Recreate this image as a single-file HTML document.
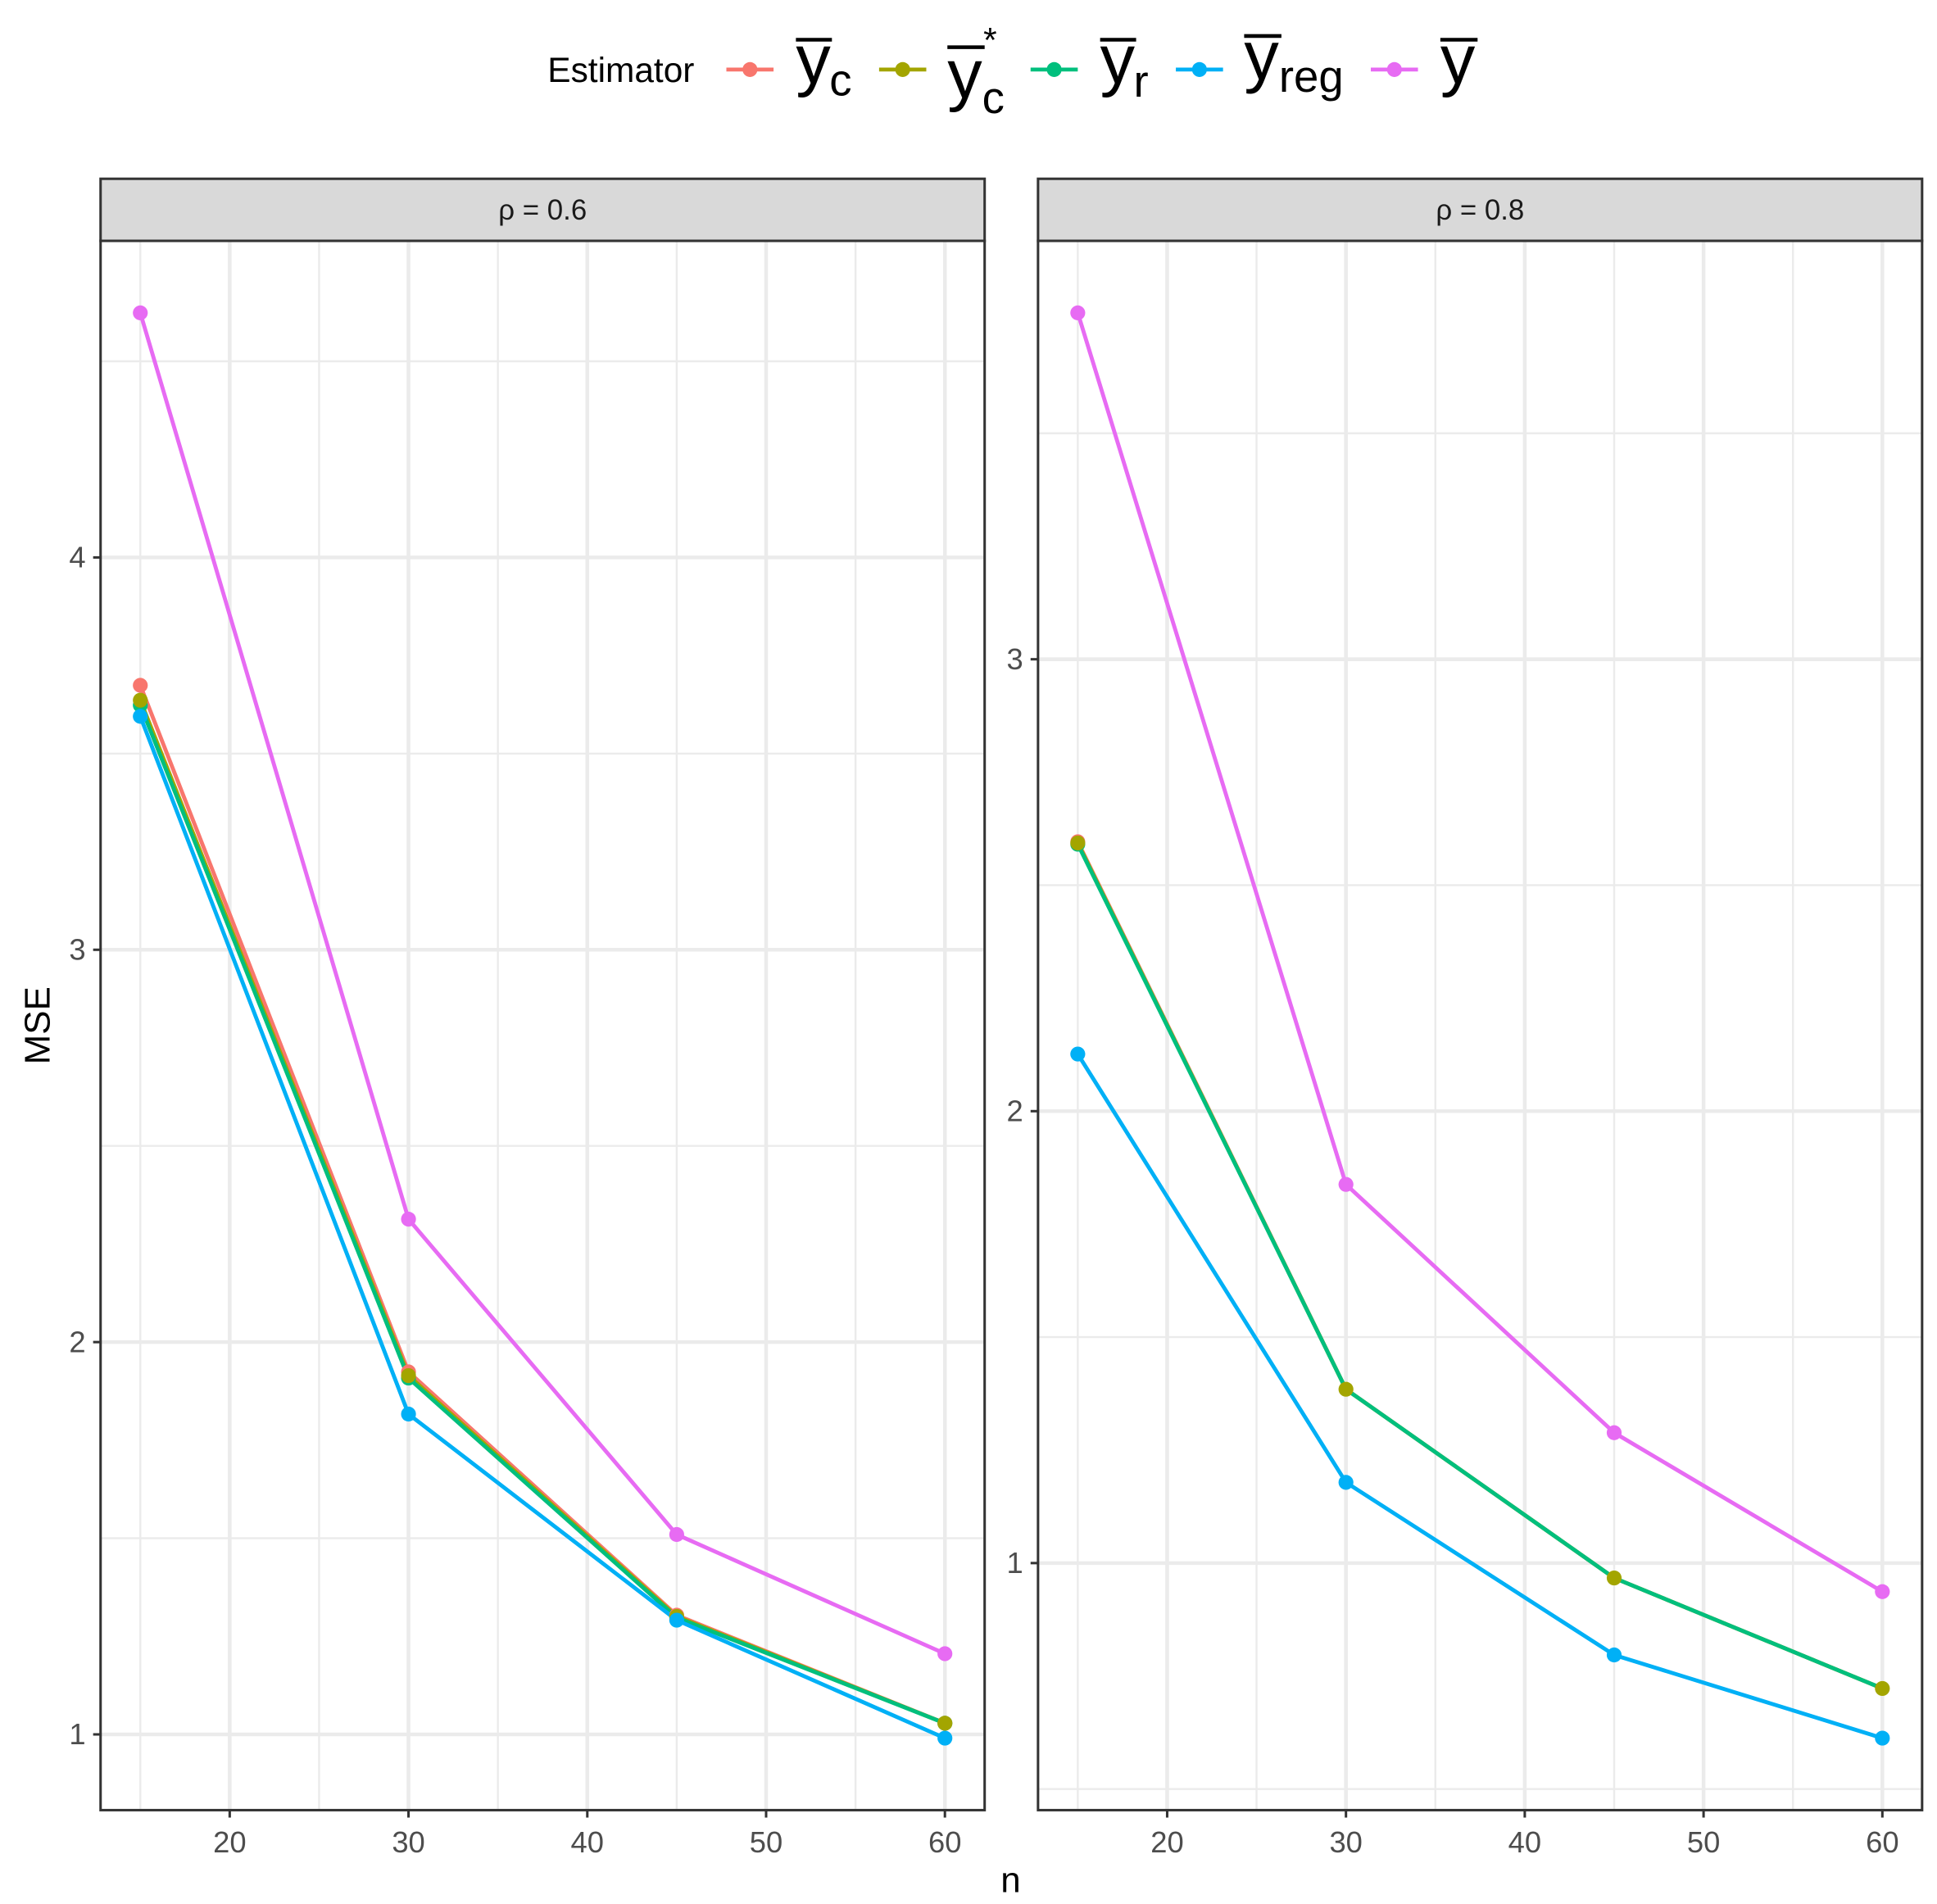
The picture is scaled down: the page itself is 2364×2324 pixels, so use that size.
<!DOCTYPE html>
<html><head><meta charset="utf-8"><style>body{margin:0;background:#fff}svg{display:block}</style></head><body>
<svg width="2364" height="2324" viewBox="0 0 1560 1533.6" xmlns="http://www.w3.org/2000/svg" font-family="Liberation Sans, sans-serif">
<rect width="1560" height="1534" fill="#fff"/>
<!-- legend -->
<text x="441" y="66" font-size="28">Estimator</text>
<g stroke-width="3.2">
<line x1="585" y1="56" x2="623" y2="56" stroke="#F8766D"/><circle cx="604" cy="56" r="6" fill="#F8766D"/>
<line x1="708" y1="56" x2="746" y2="56" stroke="#A3A500"/><circle cx="727" cy="56" r="6" fill="#A3A500"/>
<line x1="830" y1="56" x2="868" y2="56" stroke="#00BF7D"/><circle cx="849" cy="56" r="6" fill="#00BF7D"/>
<line x1="947" y1="56" x2="985" y2="56" stroke="#00B0F6"/><circle cx="966" cy="56" r="6" fill="#00B0F6"/>
<line x1="1104" y1="56" x2="1142" y2="56" stroke="#E76BF3"/><circle cx="1123" cy="56" r="6" fill="#E76BF3"/>
</g>
<g font-size="56" fill="#000">
<text x="641" y="67">y</text><text x="668" y="77" font-size="36">c</text><line x1="641" y1="32" x2="670" y2="32" stroke="#000" stroke-width="3"/>
<text x="763" y="79">y</text><text x="791" y="91" font-size="36">c</text><text x="792" y="42" font-size="28">*</text><line x1="763" y1="38" x2="793" y2="38" stroke="#000" stroke-width="3"/>
<text x="886" y="67">y</text><text x="913" y="78" font-size="36">r</text><line x1="886" y1="32" x2="915" y2="32" stroke="#000" stroke-width="3"/>
<text x="1002" y="64">y</text><text x="1030" y="74" font-size="36">reg</text><line x1="1002" y1="29" x2="1032" y2="29" stroke="#000" stroke-width="3"/>
<text x="1160" y="67">y</text><line x1="1160" y1="32" x2="1190" y2="32" stroke="#000" stroke-width="3"/>
</g>

<!-- panel 1 -->
<g stroke="#ebebeb" fill="none">
<g stroke-width="1.6"><line x1="113" y1="194" x2="113" y2="1458"/><line x1="257" y1="194" x2="257" y2="1458"/><line x1="401" y1="194" x2="401" y2="1458"/><line x1="545" y1="194" x2="545" y2="1458"/><line x1="689" y1="194" x2="689" y2="1458"/>
<line x1="81" y1="1239" x2="793" y2="1239"/><line x1="81" y1="923" x2="793" y2="923"/><line x1="81" y1="607" x2="793" y2="607"/><line x1="81" y1="291" x2="793" y2="291"/></g>
<g stroke-width="3"><line x1="185" y1="194" x2="185" y2="1458"/><line x1="329" y1="194" x2="329" y2="1458"/><line x1="473" y1="194" x2="473" y2="1458"/><line x1="617" y1="194" x2="617" y2="1458"/><line x1="761" y1="194" x2="761" y2="1458"/>
<line x1="81" y1="1397" x2="793" y2="1397"/><line x1="81" y1="1081" x2="793" y2="1081"/><line x1="81" y1="765" x2="793" y2="765"/><line x1="81" y1="449" x2="793" y2="449"/></g>
</g>
<g fill="none" stroke-width="3.2" stroke-linejoin="round">
<polyline stroke="#F8766D" points="113,552 329,1105 545,1301 761,1388"/>
<polyline stroke="#A3A500" points="113,564 329,1108 545,1302 761,1388"/>
<polyline stroke="#00BF7D" points="113,568 329,1110 545,1303 761,1388"/>
<polyline stroke="#00B0F6" points="113,577 329,1139 545,1305 761,1400"/>
<polyline stroke="#E76BF3" points="113,252 329,982 545,1236 761,1332"/>
</g>
<g>
<g fill="#F8766D"><circle cx="113" cy="552" r="6"/><circle cx="329" cy="1105" r="6"/><circle cx="545" cy="1301" r="6"/><circle cx="761" cy="1388" r="6"/></g>
<g fill="#00BF7D"><circle cx="113" cy="568" r="6"/><circle cx="329" cy="1110" r="6"/><circle cx="545" cy="1303" r="6"/><circle cx="761" cy="1388" r="6"/></g>
<g fill="#A3A500"><circle cx="113" cy="564" r="6"/><circle cx="329" cy="1108" r="6"/><circle cx="545" cy="1302" r="6"/><circle cx="761" cy="1388" r="6"/></g>
<g fill="#00B0F6"><circle cx="113" cy="577" r="6"/><circle cx="329" cy="1139" r="6"/><circle cx="545" cy="1305" r="6"/><circle cx="761" cy="1400" r="6"/></g>
<g fill="#E76BF3"><circle cx="113" cy="252" r="6"/><circle cx="329" cy="982" r="6"/><circle cx="545" cy="1236" r="6"/><circle cx="761" cy="1332" r="6"/></g>
</g>
<rect x="81" y="194" width="712" height="1264" fill="none" stroke="#333" stroke-width="2"/>
<rect x="81" y="144" width="712" height="50" fill="#d9d9d9" stroke="#333" stroke-width="2"/>
<text x="437" y="177" font-size="23" fill="#1a1a1a" text-anchor="middle">ρ = 0.6</text>
<g stroke="#333" stroke-width="2">
<line x1="75" y1="1397" x2="81" y2="1397"/><line x1="75" y1="1081" x2="81" y2="1081"/><line x1="75" y1="765" x2="81" y2="765"/><line x1="75" y1="449" x2="81" y2="449"/>
<line x1="185" y1="1458" x2="185" y2="1464"/><line x1="329" y1="1458" x2="329" y2="1464"/><line x1="473" y1="1458" x2="473" y2="1464"/><line x1="617" y1="1458" x2="617" y2="1464"/><line x1="761" y1="1458" x2="761" y2="1464"/>
</g>
<g font-size="24" fill="#4d4d4d">
<g text-anchor="end"><text x="69" y="1405">1</text><text x="69" y="1089">2</text><text x="69" y="773">3</text><text x="69" y="457">4</text></g>
<g text-anchor="middle"><text x="185" y="1492">20</text><text x="329" y="1492">30</text><text x="473" y="1492">40</text><text x="617" y="1492">50</text><text x="761" y="1492">60</text></g>
</g>

<!-- panel 2 -->
<g stroke="#ebebeb" fill="none">
<g stroke-width="1.6"><line x1="868" y1="194" x2="868" y2="1458"/><line x1="1012" y1="194" x2="1012" y2="1458"/><line x1="1156" y1="194" x2="1156" y2="1458"/><line x1="1300" y1="194" x2="1300" y2="1458"/><line x1="1444" y1="194" x2="1444" y2="1458"/>
<line x1="836" y1="1441" x2="1548" y2="1441"/><line x1="836" y1="1077" x2="1548" y2="1077"/><line x1="836" y1="713" x2="1548" y2="713"/><line x1="836" y1="349" x2="1548" y2="349"/></g>
<g stroke-width="3"><line x1="940" y1="194" x2="940" y2="1458"/><line x1="1084" y1="194" x2="1084" y2="1458"/><line x1="1228" y1="194" x2="1228" y2="1458"/><line x1="1372" y1="194" x2="1372" y2="1458"/><line x1="1516" y1="194" x2="1516" y2="1458"/>
<line x1="836" y1="1259" x2="1548" y2="1259"/><line x1="836" y1="895" x2="1548" y2="895"/><line x1="836" y1="531" x2="1548" y2="531"/></g>
</g>
<g fill="none" stroke-width="3.2" stroke-linejoin="round">
<polyline stroke="#F8766D" points="868,678 1084,1119 1300,1271 1516,1360"/>
<polyline stroke="#A3A500" points="868,679 1084,1119 1300,1271 1516,1360"/>
<polyline stroke="#00BF7D" points="868,680 1084,1119 1300,1271 1516,1360"/>
<polyline stroke="#00B0F6" points="868,849 1084,1194 1300,1333 1516,1400"/>
<polyline stroke="#E76BF3" points="868,252 1084,954 1300,1154 1516,1282"/>
</g>
<g>
<g fill="#F8766D"><circle cx="868" cy="678" r="6"/></g>
<g fill="#00BF7D"><circle cx="868" cy="680" r="6"/></g>
<g fill="#A3A500"><circle cx="868" cy="679" r="6"/><circle cx="1084" cy="1119" r="6"/><circle cx="1300" cy="1271" r="6"/><circle cx="1516" cy="1360" r="6"/></g>
<g fill="#00B0F6"><circle cx="868" cy="849" r="6"/><circle cx="1084" cy="1194" r="6"/><circle cx="1300" cy="1333" r="6"/><circle cx="1516" cy="1400" r="6"/></g>
<g fill="#E76BF3"><circle cx="868" cy="252" r="6"/><circle cx="1084" cy="954" r="6"/><circle cx="1300" cy="1154" r="6"/><circle cx="1516" cy="1282" r="6"/></g>
</g>
<rect x="836" y="194" width="712" height="1264" fill="none" stroke="#333" stroke-width="2"/>
<rect x="836" y="144" width="712" height="50" fill="#d9d9d9" stroke="#333" stroke-width="2"/>
<text x="1192" y="177" font-size="23" fill="#1a1a1a" text-anchor="middle">ρ = 0.8</text>
<g stroke="#333" stroke-width="2">
<line x1="830" y1="1259" x2="836" y2="1259"/><line x1="830" y1="895" x2="836" y2="895"/><line x1="830" y1="531" x2="836" y2="531"/>
<line x1="940" y1="1458" x2="940" y2="1464"/><line x1="1084" y1="1458" x2="1084" y2="1464"/><line x1="1228" y1="1458" x2="1228" y2="1464"/><line x1="1372" y1="1458" x2="1372" y2="1464"/><line x1="1516" y1="1458" x2="1516" y2="1464"/>
</g>
<g font-size="24" fill="#4d4d4d">
<g text-anchor="end"><text x="824" y="1267">1</text><text x="824" y="903">2</text><text x="824" y="539">3</text></g>
<g text-anchor="middle"><text x="940" y="1492">20</text><text x="1084" y="1492">30</text><text x="1228" y="1492">40</text><text x="1372" y="1492">50</text><text x="1516" y="1492">60</text></g>
</g>

<text x="814" y="1524" font-size="29" text-anchor="middle">n</text>
<text transform="translate(40,826) rotate(-90)" font-size="29" text-anchor="middle">MSE</text>
</svg>
</body></html>
